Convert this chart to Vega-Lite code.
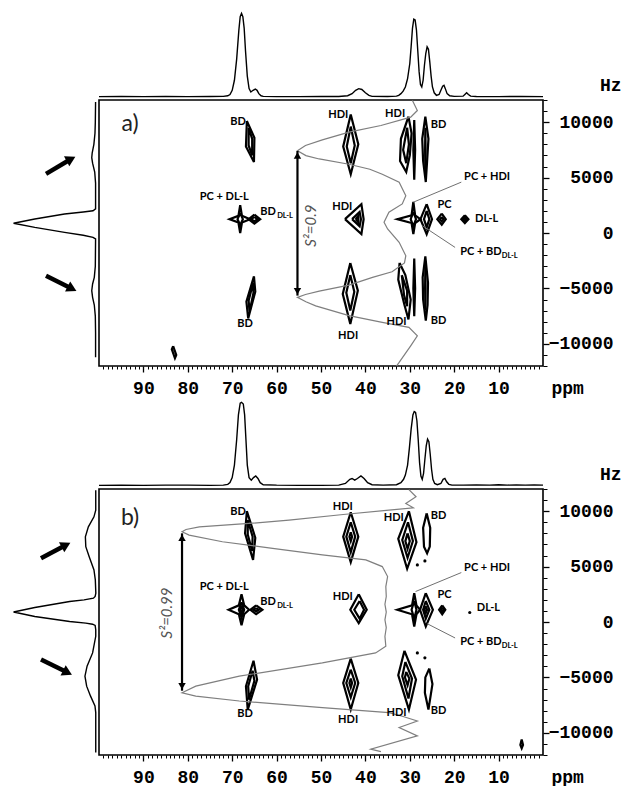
{
 "$schema": "https://vega.github.io/schema/vega-lite/v6.json",
 "padding": {"left": 10, "top": 10, "right": 0, "bottom": 0},
 "background": "white",
 "config": {"view": {"stroke": null}, "font": "Lato"},
 "datasets": {
  "topA": [{"x":100,"v":0.5},{"x":95,"v":0.6},{"x":90,"v":0.5},{"x":85,"v":0.6},{"x":80,"v":0.5},{"x":75,"v":0.6},{"x":72,"v":0.8},{"x":71,"v":1.5},{"x":70.5,"v":3},{"x":70,"v":8},{"x":69.5,"v":20},{"x":69,"v":45},{"x":68.5,"v":80},{"x":68.2,"v":96},{"x":67.9,"v":100},{"x":67.6,"v":96},{"x":67.3,"v":82},{"x":67,"v":55},{"x":66.6,"v":25},{"x":66.2,"v":10},{"x":65.8,"v":6},{"x":65.3,"v":8},{"x":64.8,"v":9.5},{"x":64.4,"v":8},{"x":64,"v":4},{"x":63.5,"v":1.5},{"x":63,"v":0.8},{"x":60,"v":0.5},{"x":55,"v":0.5},{"x":50,"v":0.6},{"x":46,"v":0.6},{"x":44,"v":1.5},{"x":43,"v":4},{"x":42.2,"v":8},{"x":41.5,"v":10},{"x":40.8,"v":9},{"x":40,"v":5},{"x":39.2,"v":2},{"x":38.5,"v":0.8},{"x":35,"v":0.6},{"x":33,"v":1},{"x":32.5,"v":2},{"x":32,"v":4},{"x":31.5,"v":7},{"x":31,"v":12},{"x":30.5,"v":22},{"x":30,"v":40},{"x":29.7,"v":60},{"x":29.4,"v":82},{"x":29.1,"v":93},{"x":28.8,"v":92},{"x":28.5,"v":80},{"x":28.2,"v":55},{"x":27.9,"v":30},{"x":27.6,"v":15},{"x":27.3,"v":12},{"x":27,"v":20},{"x":26.7,"v":38},{"x":26.4,"v":52},{"x":26.1,"v":60},{"x":25.8,"v":57},{"x":25.5,"v":42},{"x":25.2,"v":25},{"x":24.9,"v":12},{"x":24.5,"v":5},{"x":24,"v":2},{"x":23.4,"v":3},{"x":23,"v":8},{"x":22.6,"v":13},{"x":22.3,"v":14},{"x":22,"v":10},{"x":21.6,"v":4},{"x":21,"v":1.5},{"x":20,"v":0.8},{"x":18,"v":1},{"x":17.6,"v":3},{"x":17.2,"v":5},{"x":16.8,"v":3},{"x":16.3,"v":1},{"x":15,"v":0.6},{"x":10,"v":0.5},{"x":5,"v":0.6},{"x":0,"v":0.5}],
  "topB": [{"x":100,"v":0.8},{"x":95,"v":0.9},{"x":90,"v":0.8},{"x":85,"v":1},{"x":80,"v":1},{"x":75,"v":0.8},{"x":72,"v":1},{"x":71,"v":2},{"x":70.5,"v":4},{"x":70,"v":10},{"x":69.5,"v":25},{"x":69,"v":55},{"x":68.6,"v":85},{"x":68.2,"v":99},{"x":67.9,"v":100},{"x":67.5,"v":98},{"x":67.2,"v":85},{"x":66.9,"v":55},{"x":66.6,"v":25},{"x":66.2,"v":10},{"x":65.7,"v":7},{"x":65.2,"v":10},{"x":64.7,"v":12},{"x":64.2,"v":9},{"x":63.7,"v":4},{"x":63,"v":1.5},{"x":60,"v":1},{"x":55,"v":0.8},{"x":50,"v":0.8},{"x":46,"v":1},{"x":44.5,"v":3},{"x":43.5,"v":8},{"x":43,"v":9},{"x":42.4,"v":7},{"x":41.8,"v":9},{"x":41,"v":12},{"x":40.3,"v":9},{"x":39.5,"v":4},{"x":38.5,"v":1.5},{"x":36,"v":1},{"x":33,"v":1.5},{"x":32,"v":4},{"x":31.4,"v":8},{"x":31,"v":13},{"x":30.5,"v":25},{"x":30.1,"v":45},{"x":29.7,"v":68},{"x":29.3,"v":85},{"x":29,"v":89},{"x":28.7,"v":88},{"x":28.4,"v":78},{"x":28.1,"v":55},{"x":27.8,"v":28},{"x":27.5,"v":12},{"x":27.2,"v":8},{"x":26.9,"v":15},{"x":26.6,"v":32},{"x":26.3,"v":48},{"x":26,"v":56},{"x":25.7,"v":53},{"x":25.4,"v":38},{"x":25.1,"v":20},{"x":24.8,"v":8},{"x":24.4,"v":3},{"x":23.8,"v":1.5},{"x":23,"v":3},{"x":22.5,"v":8},{"x":22.1,"v":9},{"x":21.7,"v":5},{"x":21.2,"v":2},{"x":20.5,"v":1},{"x":18,"v":1},{"x":15,"v":1.2},{"x":12,"v":1},{"x":10,"v":1.5},{"x":8,"v":1},{"x":6,"v":1.4},{"x":4,"v":1},{"x":2,"v":1.2},{"x":0,"v":1}],
  "leftA": [{"y":11830,"v":0.5},{"y":10000,"v":0.8},{"y":9000,"v":1.2},{"y":8000,"v":2.5},{"y":7200,"v":4.5},{"y":6800,"v":5},{"y":6300,"v":4},{"y":5500,"v":1.5},{"y":4500,"v":0.5},{"y":2170,"v":0.5},{"y":2010,"v":3.5},{"y":1900,"v":15},{"y":1720,"v":37},{"y":1260,"v":72},{"y":876,"v":97},{"y":510,"v":72},{"y":60,"v":37},{"y":-200,"v":15},{"y":-390,"v":3.5},{"y":-540,"v":0.5},{"y":-3000,"v":0.8},{"y":-4000,"v":2},{"y":-4600,"v":4},{"y":-5200,"v":5},{"y":-5800,"v":4},{"y":-6500,"v":2},{"y":-7500,"v":0.8},{"y":-9000,"v":0.5},{"y":-11200,"v":0.5}],
  "leftB": [{"y":11890,"v":0.3},{"y":10090,"v":0.3},{"y":9490,"v":2.4},{"y":8590,"v":9},{"y":7690,"v":12.5},{"y":6790,"v":12},{"y":5890,"v":8},{"y":4700,"v":2.4},{"y":3800,"v":0.8},{"y":2600,"v":0.2},{"y":2300,"v":1},{"y":2150,"v":3},{"y":2000,"v":14},{"y":1850,"v":31},{"y":1310,"v":72},{"y":900,"v":97},{"y":500,"v":72},{"y":50,"v":31},{"y":-100,"v":12},{"y":-200,"v":4},{"y":-310,"v":1},{"y":-700,"v":0.3},{"y":-1290,"v":0.3},{"y":-2790,"v":4},{"y":-3990,"v":10.5},{"y":-4890,"v":13},{"y":-5790,"v":11},{"y":-6690,"v":6.4},{"y":-7580,"v":1.2},{"y":-8180,"v":0.3},{"y":-11770,"v":0.3}],
  "arrA": [{"x":58.8,"y":5330,"x2":29.4,"y2":6680,"d":"up"},{"x":58.8,"y":-3860,"x2":28.2,"y2":-5030,"d":"down"}],
  "arrB": [{"x":64.7,"y":5750,"x2":35.3,"y2":6950,"d":"up"},{"x":64.7,"y":-3390,"x2":33.5,"y2":-4560,"d":"down"}],
  "contA": [
   {"c":1,"x":66.7,"y":10100},{"c":1,"x":65.0,"y":8600},{"c":1,"x":65.1,"y":6400},{"c":1,"x":66.9,"y":7800},{"c":1,"x":66.7,"y":10100},
   {"c":2,"x":66.3,"y":9500},{"c":2,"x":65.5,"y":8500},{"c":2,"x":65.5,"y":7000},{"c":2,"x":66.3,"y":7900},{"c":2,"x":66.3,"y":9500},
   {"c":3,"x":65.1,"y":-3900},{"c":3,"x":64.8,"y":-5300},{"c":3,"x":66.4,"y":-7700},{"c":3,"x":66.8,"y":-6200},{"c":3,"x":65.1,"y":-3900},
   {"c":4,"x":65.3,"y":-4500},{"c":4,"x":65.2,"y":-5400},{"c":4,"x":66.1,"y":-7100},{"c":4,"x":66.3,"y":-6100},{"c":4,"x":65.3,"y":-4500},
   {"c":5,"x":68.2,"y":2500},{"c":5,"x":67.8,"y":1550},{"c":5,"x":66.0,"y":1250},{"c":5,"x":67.8,"y":950},{"c":5,"x":68.2,"y":0},{"c":5,"x":68.6,"y":950},{"c":5,"x":70.6,"y":1250},{"c":5,"x":68.6,"y":1550},{"c":5,"x":68.2,"y":2500},
   {"c":6,"x":68.2,"y":1800},{"c":6,"x":67.6,"y":1250},{"c":6,"x":68.2,"y":700},{"c":6,"x":68.8,"y":1250},{"c":6,"x":68.2,"y":1800},
   {"c":7,"x":65.0,"y":1650},{"c":7,"x":63.7,"y":1250},{"c":7,"x":65.0,"y":850},{"c":7,"x":66.3,"y":1250},{"c":7,"x":65.0,"y":1650},
   {"c":8,"x":65.0,"y":1450},{"c":8,"x":64.3,"y":1250},{"c":8,"x":65.0,"y":1050},{"c":8,"x":65.7,"y":1250},{"c":8,"x":65.0,"y":1450},
   {"c":9,"x":43.3,"y":10700},{"c":9,"x":41.6,"y":8000},{"c":9,"x":43.3,"y":5300},{"c":9,"x":45.0,"y":7800},{"c":9,"x":43.3,"y":10700},
   {"c":10,"x":43.3,"y":9600},{"c":10,"x":42.4,"y":7900},{"c":10,"x":43.3,"y":6300},{"c":10,"x":44.2,"y":7800},{"c":10,"x":43.3,"y":9600},
   {"c":11,"x":44.6,"y":1250},{"c":11,"x":40.9,"y":2600},{"c":11,"x":40.4,"y":1250},{"c":11,"x":40.9,"y":-100},{"c":11,"x":44.6,"y":1250},
   {"c":12,"x":43.0,"y":1250},{"c":12,"x":41.3,"y":1900},{"c":12,"x":41.0,"y":1250},{"c":12,"x":41.3,"y":600},{"c":12,"x":43.0,"y":1250},
   {"c":13,"x":42.2,"y":1250},{"c":13,"x":41.6,"y":1550},{"c":13,"x":41.6,"y":950},{"c":13,"x":42.2,"y":1250},
   {"c":14,"x":43.4,"y":-2700},{"c":14,"x":41.7,"y":-5200},{"c":14,"x":43.4,"y":-8200},{"c":14,"x":45.1,"y":-5500},{"c":14,"x":43.4,"y":-2700},
   {"c":15,"x":43.4,"y":-3800},{"c":15,"x":42.5,"y":-5300},{"c":15,"x":43.4,"y":-7000},{"c":15,"x":44.3,"y":-5400},{"c":15,"x":43.4,"y":-3800},
   {"c":16,"x":30.3,"y":10500},{"c":16,"x":29.6,"y":9000},{"c":16,"x":30.0,"y":7000},{"c":16,"x":30.8,"y":5500},{"c":16,"x":32.2,"y":6500},{"c":16,"x":32.0,"y":8500},{"c":16,"x":30.3,"y":10500},
   {"c":17,"x":30.6,"y":9500},{"c":17,"x":30.2,"y":8000},{"c":17,"x":30.8,"y":6300},{"c":17,"x":31.5,"y":7500},{"c":17,"x":30.6,"y":9500},
   {"c":18,"x":29.0,"y":10200},{"c":18,"x":28.8,"y":7500},{"c":18,"x":29.0,"y":4800},{"c":18,"x":29.2,"y":7500},{"c":18,"x":29.0,"y":10200},
   {"c":19,"x":26.5,"y":10500},{"c":19,"x":25.8,"y":8500},{"c":19,"x":26.1,"y":6500},{"c":19,"x":26.4,"y":4600},{"c":19,"x":27.0,"y":6500},{"c":19,"x":27.2,"y":8500},{"c":19,"x":26.5,"y":10500},
   {"c":20,"x":26.5,"y":9500},{"c":20,"x":26.45,"y":7500},{"c":20,"x":26.5,"y":5500},{"c":20,"x":26.55,"y":7500},{"c":20,"x":26.5,"y":9500},
   {"c":21,"x":29.2,"y":2800},{"c":21,"x":28.8,"y":1600},{"c":21,"x":27.6,"y":1250},{"c":21,"x":28.8,"y":900},{"c":21,"x":29.2,"y":-100},{"c":21,"x":29.6,"y":900},{"c":21,"x":32.8,"y":1250},{"c":21,"x":29.6,"y":1600},{"c":21,"x":29.2,"y":2800},
   {"c":22,"x":29.2,"y":1900},{"c":22,"x":28.6,"y":1250},{"c":22,"x":29.2,"y":600},{"c":22,"x":29.8,"y":1250},{"c":22,"x":29.2,"y":1900},
   {"c":23,"x":26.2,"y":2600},{"c":23,"x":25.0,"y":1250},{"c":23,"x":26.2,"y":-100},{"c":23,"x":27.6,"y":1250},{"c":23,"x":26.2,"y":2600},
   {"c":24,"x":26.2,"y":2000},{"c":24,"x":25.6,"y":1250},{"c":24,"x":26.2,"y":500},{"c":24,"x":26.8,"y":1250},{"c":24,"x":26.2,"y":2000},
   {"c":25,"x":22.8,"y":1750},{"c":25,"x":21.9,"y":1250},{"c":25,"x":22.8,"y":750},{"c":25,"x":23.8,"y":1250},{"c":25,"x":22.8,"y":1750},
   {"c":26,"x":22.8,"y":1450},{"c":26,"x":22.4,"y":1250},{"c":26,"x":22.8,"y":1050},{"c":26,"x":23.2,"y":1250},{"c":26,"x":22.8,"y":1450},
   {"c":27,"x":17.6,"y":1600},{"c":27,"x":16.8,"y":1250},{"c":27,"x":17.6,"y":900},{"c":27,"x":18.4,"y":1250},{"c":27,"x":17.6,"y":1600},
   {"c":28,"x":17.6,"y":1400},{"c":28,"x":17.2,"y":1250},{"c":28,"x":17.6,"y":1100},{"c":28,"x":18.0,"y":1250},{"c":28,"x":17.6,"y":1400},
   {"c":29,"x":32.3,"y":-2700},{"c":29,"x":31.0,"y":-3800},{"c":29,"x":29.8,"y":-6000},{"c":29,"x":30.3,"y":-7800},{"c":29,"x":31.2,"y":-6500},{"c":29,"x":32.6,"y":-4200},{"c":29,"x":32.3,"y":-2700},
   {"c":30,"x":31.8,"y":-3800},{"c":30,"x":30.6,"y":-5200},{"c":30,"x":30.6,"y":-6600},{"c":30,"x":31.3,"y":-5600},{"c":30,"x":31.8,"y":-3800},
   {"c":31,"x":29.0,"y":-2300},{"c":31,"x":28.8,"y":-5000},{"c":31,"x":29.0,"y":-7500},{"c":31,"x":29.2,"y":-5000},{"c":31,"x":29.0,"y":-2300},
   {"c":32,"x":26.5,"y":-2100},{"c":32,"x":25.9,"y":-4500},{"c":32,"x":26.0,"y":-6500},{"c":32,"x":26.4,"y":-7900},{"c":32,"x":27.0,"y":-6000},{"c":32,"x":27.1,"y":-4000},{"c":32,"x":26.5,"y":-2100},
   {"c":33,"x":26.5,"y":-3000},{"c":33,"x":26.45,"y":-5000},{"c":33,"x":26.5,"y":-7000},{"c":33,"x":26.55,"y":-5000},{"c":33,"x":26.5,"y":-3000},
   {"c":34,"x":83.3,"y":-10200},{"c":34,"x":82.6,"y":-11000},{"c":34,"x":82.9,"y":-11300},{"c":34,"x":83.6,"y":-10500},{"c":34,"x":83.3,"y":-10200}
  ],
  "contB": [
   {"c":1,"x":66.7,"y":10000},{"c":1,"x":64.8,"y":7600},{"c":1,"x":65.3,"y":5600},{"c":1,"x":67.1,"y":8000},{"c":1,"x":66.7,"y":10000},
   {"c":2,"x":66.5,"y":9200},{"c":2,"x":65.4,"y":7700},{"c":2,"x":65.5,"y":6400},{"c":2,"x":66.5,"y":7900},{"c":2,"x":66.5,"y":9200},
   {"c":3,"x":65.2,"y":-3500},{"c":3,"x":64.4,"y":-5200},{"c":3,"x":66.5,"y":-7900},{"c":3,"x":66.9,"y":-5800},{"c":3,"x":65.2,"y":-3500},
   {"c":4,"x":65.4,"y":-4400},{"c":4,"x":65.0,"y":-5300},{"c":4,"x":66.2,"y":-7000},{"c":4,"x":66.4,"y":-5800},{"c":4,"x":65.4,"y":-4400},
   {"c":5,"x":67.9,"y":2500},{"c":5,"x":67.3,"y":1500},{"c":5,"x":66.2,"y":1100},{"c":5,"x":67.3,"y":700},{"c":5,"x":67.9,"y":-300},{"c":5,"x":68.5,"y":700},{"c":5,"x":70.8,"y":1100},{"c":5,"x":68.5,"y":1500},{"c":5,"x":67.9,"y":2500},
   {"c":6,"x":67.9,"y":1800},{"c":6,"x":67.3,"y":1100},{"c":6,"x":67.9,"y":400},{"c":6,"x":68.5,"y":1100},{"c":6,"x":67.9,"y":1800},
   {"c":7,"x":67.9,"y":1400},{"c":7,"x":67.6,"y":1100},{"c":7,"x":67.9,"y":800},{"c":7,"x":68.2,"y":1100},{"c":7,"x":67.9,"y":1400},
   {"c":8,"x":64.6,"y":1500},{"c":8,"x":63.2,"y":1100},{"c":8,"x":64.6,"y":700},{"c":8,"x":65.9,"y":1100},{"c":8,"x":64.6,"y":1500},
   {"c":9,"x":64.6,"y":1250},{"c":9,"x":64.0,"y":1100},{"c":9,"x":64.6,"y":950},{"c":9,"x":65.2,"y":1100},{"c":9,"x":64.6,"y":1250},
   {"c":10,"x":43.3,"y":9900},{"c":10,"x":41.6,"y":7700},{"c":10,"x":43.3,"y":5400},{"c":10,"x":45.0,"y":7700},{"c":10,"x":43.3,"y":9900},
   {"c":11,"x":43.3,"y":9000},{"c":11,"x":42.3,"y":7700},{"c":11,"x":43.3,"y":6300},{"c":11,"x":44.3,"y":7700},{"c":11,"x":43.3,"y":9000},
   {"c":12,"x":43.3,"y":8100},{"c":12,"x":43.0,"y":7700},{"c":12,"x":43.3,"y":7300},{"c":12,"x":43.6,"y":7700},{"c":12,"x":43.3,"y":8100},
   {"c":13,"x":41.5,"y":2500},{"c":13,"x":39.7,"y":1100},{"c":13,"x":41.5,"y":-100},{"c":13,"x":43.4,"y":1100},{"c":13,"x":41.5,"y":2500},
   {"c":14,"x":41.3,"y":1900},{"c":14,"x":40.3,"y":1100},{"c":14,"x":41.3,"y":300},{"c":14,"x":42.5,"y":1100},{"c":14,"x":41.3,"y":1900},
   {"c":15,"x":43.3,"y":-3300},{"c":15,"x":41.6,"y":-5500},{"c":15,"x":43.3,"y":-7900},{"c":15,"x":45.0,"y":-5500},{"c":15,"x":43.3,"y":-3300},
   {"c":16,"x":43.3,"y":-4300},{"c":16,"x":42.3,"y":-5500},{"c":16,"x":43.3,"y":-6800},{"c":16,"x":44.3,"y":-5500},{"c":16,"x":43.3,"y":-4300},
   {"c":17,"x":43.3,"y":-5100},{"c":17,"x":43.0,"y":-5500},{"c":17,"x":43.3,"y":-5900},{"c":17,"x":43.6,"y":-5500},{"c":17,"x":43.3,"y":-5100},
   {"c":18,"x":30.2,"y":10000},{"c":18,"x":28.5,"y":7200},{"c":18,"x":30.6,"y":4800},{"c":18,"x":32.6,"y":7500},{"c":18,"x":30.2,"y":10000},
   {"c":19,"x":30.4,"y":9000},{"c":19,"x":29.3,"y":7300},{"c":19,"x":30.5,"y":5800},{"c":19,"x":31.7,"y":7400},{"c":19,"x":30.4,"y":9000},
   {"c":20,"x":30.5,"y":8000},{"c":20,"x":30.0,"y":7300},{"c":20,"x":30.5,"y":6600},{"c":20,"x":31.0,"y":7300},{"c":20,"x":30.5,"y":8000},
   {"c":21,"x":26.2,"y":9800},{"c":21,"x":25.4,"y":8500},{"c":21,"x":25.5,"y":6800},{"c":21,"x":26.1,"y":6200},{"c":21,"x":26.8,"y":6800},{"c":21,"x":27.0,"y":8500},{"c":21,"x":26.2,"y":9800},
   {"c":23,"x":29.0,"y":2600},{"c":23,"x":28.5,"y":1500},{"c":23,"x":27.7,"y":1100},{"c":23,"x":28.5,"y":700},{"c":23,"x":29.0,"y":-400},{"c":23,"x":29.5,"y":700},{"c":23,"x":32.8,"y":1100},{"c":23,"x":29.5,"y":1500},{"c":23,"x":29.0,"y":2600},
   {"c":24,"x":29.0,"y":1900},{"c":24,"x":28.5,"y":1100},{"c":24,"x":29.0,"y":300},{"c":24,"x":29.6,"y":1100},{"c":24,"x":29.0,"y":1900},
   {"c":25,"x":26.4,"y":2600},{"c":25,"x":24.8,"y":1100},{"c":25,"x":26.4,"y":-400},{"c":25,"x":27.7,"y":1100},{"c":25,"x":26.4,"y":2600},
   {"c":26,"x":26.4,"y":1900},{"c":26,"x":25.6,"y":1100},{"c":26,"x":26.4,"y":300},{"c":26,"x":27.0,"y":1100},{"c":26,"x":26.4,"y":1900},
   {"c":27,"x":26.4,"y":1400},{"c":27,"x":26.1,"y":1100},{"c":27,"x":26.4,"y":800},{"c":27,"x":26.7,"y":1100},{"c":27,"x":26.4,"y":1400},
   {"c":28,"x":22.7,"y":1500},{"c":28,"x":22.0,"y":1100},{"c":28,"x":22.7,"y":700},{"c":28,"x":23.4,"y":1100},{"c":28,"x":22.7,"y":1500},
   {"c":29,"x":22.7,"y":1300},{"c":29,"x":22.4,"y":1100},{"c":29,"x":22.7,"y":900},{"c":29,"x":23.0,"y":1100},{"c":29,"x":22.7,"y":1300},
   {"c":30,"x":31.2,"y":-2600},{"c":30,"x":28.6,"y":-5200},{"c":30,"x":30.2,"y":-7900},{"c":30,"x":32.6,"y":-4800},{"c":30,"x":31.2,"y":-2600},
   {"c":31,"x":31.0,"y":-3600},{"c":31,"x":29.5,"y":-5100},{"c":31,"x":30.3,"y":-6900},{"c":31,"x":31.7,"y":-4900},{"c":31,"x":31.0,"y":-3600},
   {"c":32,"x":30.8,"y":-4500},{"c":32,"x":30.1,"y":-5100},{"c":32,"x":30.5,"y":-5700},{"c":32,"x":31.1,"y":-5000},{"c":32,"x":30.8,"y":-4500},
   {"c":33,"x":25.6,"y":-4200},{"c":33,"x":24.9,"y":-5600},{"c":33,"x":25.8,"y":-7900},{"c":33,"x":26.6,"y":-6400},{"c":33,"x":26.5,"y":-5000},{"c":33,"x":25.6,"y":-4200},
   {"c":35,"x":4.8,"y":-10600},{"c":35,"x":4.5,"y":-11100},{"c":35,"x":4.8,"y":-11400},{"c":35,"x":5.1,"y":-11100},{"c":35,"x":4.8,"y":-10600}
  ],
  "curveA": [{"x":29.4,"y":11950},{"x":28.3,"y":11050},{"x":29.8,"y":10450},{"x":36.5,"y":9700},{"x":43.7,"y":9100},{"x":49.7,"y":8400},{"x":53.5,"y":7900},{"x":55.3,"y":7430},{"x":53.4,"y":6980},{"x":50.4,"y":6680},{"x":43.7,"y":6200},{"x":39.0,"y":5750},{"x":36.2,"y":5300},{"x":32.4,"y":4580},{"x":30.9,"y":3370},{"x":31.7,"y":2620},{"x":34.7,"y":1870},{"x":35.8,"y":970},{"x":35.0,"y":360},{"x":32.4,"y":-840},{"x":30.9,"y":-2050},{"x":31.2,"y":-2700},{"x":34.0,"y":-3500},{"x":38.4,"y":-4000},{"x":43.7,"y":-4700},{"x":50.4,"y":-5250},{"x":53.5,"y":-5550},{"x":55.3,"y":-5810},{"x":53.4,"y":-6200},{"x":51.2,"y":-6570},{"x":43.7,"y":-7450},{"x":36.2,"y":-8070},{"x":30.2,"y":-8520},{"x":28.3,"y":-9280},{"x":29.8,"y":-10180},{"x":32.4,"y":-11680},{"x":33.0,"y":-12000}],
  "curveB": [{"x":30.2,"y":11950},{"x":28.6,"y":11300},{"x":30.9,"y":10700},{"x":29.2,"y":10300},{"x":34.7,"y":10090},{"x":45.0,"y":9700},{"x":57.2,"y":9190},{"x":66.2,"y":8890},{"x":77.4,"y":8590},{"x":80.4,"y":8350},{"x":81.3,"y":8140},{"x":79.7,"y":7840},{"x":72.2,"y":7240},{"x":60.9,"y":6650},{"x":49.7,"y":6050},{"x":39.9,"y":5600},{"x":36.2,"y":5000},{"x":35.0,"y":4100},{"x":35.4,"y":3200},{"x":35.3,"y":2300},{"x":35.6,"y":1600},{"x":35.3,"y":900},{"x":35.6,"y":200},{"x":35.3,"y":-500},{"x":35.6,"y":-1300},{"x":35.4,"y":-2190},{"x":37.7,"y":-2790},{"x":49.7,"y":-3680},{"x":68.4,"y":-4890},{"x":78.2,"y":-5790},{"x":81.3,"y":-6380},{"x":78.2,"y":-6680},{"x":68.4,"y":-7130},{"x":49.7,"y":-7730},{"x":34.7,"y":-8180},{"x":31.7,"y":-8500},{"x":28.3,"y":-8930},{"x":32.4,"y":-9520},{"x":28.3,"y":-10280},{"x":38.8,"y":-11470},{"x":36.5,"y":-11700}],
  "labA": [{"x":68.7,"y":10020,"t":"BD"},{"x":67.1,"y":-8240,"t":"BD"},{"x":71.8,"y":3230,"t":"PC + DL-L"},{"x":61.9,"y":1870,"t":"BD"},{"x":46.1,"y":10680,"t":"HDI"},{"x":33.3,"y":10740,"t":"HDI"},{"x":23.5,"y":9710,"t":"BD"},{"x":12.6,"y":5040,"t":"PC + HDI"},{"x":45.2,"y":2320,"t":"HDI"},{"x":22.2,"y":2530,"t":"PC"},{"x":12.7,"y":1270,"t":"DL-L"},{"x":14.0,"y":-1750,"t":"PC + BD"},{"x":43.9,"y":-9290,"t":"HDI"},{"x":33.0,"y":-8030,"t":"HDI"},{"x":23.5,"y":-7960,"t":"BD"}],
  "labB": [{"x":68.7,"y":9940,"t":"BD"},{"x":67.1,"y":-8320,"t":"BD"},{"x":71.8,"y":3140,"t":"PC + DL-L"},{"x":61.9,"y":1800,"t":"BD"},{"x":45.1,"y":10390,"t":"HDI"},{"x":33.6,"y":9400,"t":"HDI"},{"x":23.5,"y":9550,"t":"BD"},{"x":12.6,"y":4910,"t":"PC + HDI"},{"x":45.1,"y":2250,"t":"HDI"},{"x":22.2,"y":2460,"t":"PC"},{"x":12.3,"y":1260,"t":"DL-L"},{"x":14.0,"y":-1830,"t":"PC + BD"},{"x":43.9,"y":-8830,"t":"HDI"},{"x":33.0,"y":-8170,"t":"HDI"},{"x":23.5,"y":-8020,"t":"BD"}],
  "subA": [{"x":58.1,"y":1570,"t":"DL-L"},{"x":7.5,"y":-2110,"t":"DL-L"}],
  "subB": [{"x":58.1,"y":1470,"t":"DL-L"},{"x":7.5,"y":-2190,"t":"DL-L"}],
  "leadA": [{"x":29.2,"y":2780,"x2":18.4,"y2":4590},{"x":27.2,"y":660,"x2":19.8,"y2":-1300}],
  "leadB": [{"x":28.7,"y":2750,"x2":18.4,"y2":4460},{"x":26.1,"y":-150,"x2":19.8,"y2":-1440}],
  "s2A": [{"x":55.3,"y":7400,"y2":-5650}],
  "s2B": [{"x":81.3,"y":8000,"y2":-6200}],
  "s2hA": [{"x":55.3,"y":7000,"e":"top"},{"x":55.3,"y":-5250,"e":"bot"}],
  "s2hB": [{"x":81.3,"y":7600,"e":"top"},{"x":81.3,"y":-5800,"e":"bot"}],
  "s2tA": [{"x":52.3,"y":660,"t":"S²=0.9"}],
  "s2tB": [{"x":84.6,"y":810,"t":"S²=0.99"}],
  "panA": [{"x":93.0,"y":9870,"t":"a)"}],
  "panB": [{"x":93.0,"y":9400,"t":"b)"}],
  "dotB": [{"x":28.3,"y":5150},{"x":26.6,"y":5510},{"x":28.3,"y":-2790},{"x":26.6,"y":-3230},{"x":16.5,"y":860}]
 },
 "spacing": 1,
 "vconcat": [
  {
   "columns": 2, "spacing": 3, "bounds": "flush",
   "concat": [
    {"width": 85, "height": 87, "data": {"values": [{}]}, "mark": {"type": "point", "opacity": 0}},
    {"width": 444, "height": 87, "data": {"name": "topA"}, "mark": {"type": "line", "color": "black", "strokeWidth": 1.4},
     "encoding": {"x": {"field": "x", "type": "quantitative", "scale": {"domain": [0, 100], "reverse": true, "nice": false}, "axis": null},
                  "y": {"field": "v", "type": "quantitative", "scale": {"domain": [0, 104], "nice": false}, "axis": null}}},
    {"width": 85, "height": 266,
     "layer": [
      {"data": {"name": "leftA"}, "mark": {"type": "line", "color": "black", "strokeWidth": 1.4},
       "encoding": {"x": {"field": "v", "type": "quantitative", "scale": {"domain": [0, 100], "reverse": true, "nice": false}, "axis": null},
                    "y": {"field": "y", "type": "quantitative", "scale": {"domain": [-12000, 12000], "nice": false}, "axis": null},
                    "order": {"value": null}}},
      {"data": {"name": "arrA"}, "mark": {"type": "rule", "color": "black", "strokeWidth": 4.5},
       "encoding": {"x": {"field": "x", "type": "quantitative", "axis": null}, "y": {"field": "y", "type": "quantitative", "axis": null}, "x2": {"field": "x2"}, "y2": {"field": "y2"}}},
      {"data": {"name": "arrA"}, "transform": [{"filter": "datum.d == 'up'"}], "mark": {"type": "point", "shape": "triangle-up", "filled": true, "color": "black", "opacity": 1, "size": 130, "angle": 62},
       "encoding": {"x": {"field": "x2", "type": "quantitative", "axis": null}, "y": {"field": "y2", "type": "quantitative", "axis": null}}},
      {"data": {"name": "arrA"}, "transform": [{"filter": "datum.d == 'down'"}], "mark": {"type": "point", "shape": "triangle-up", "filled": true, "color": "black", "opacity": 1, "size": 130, "angle": 117},
       "encoding": {"x": {"field": "x2", "type": "quantitative", "axis": null}, "y": {"field": "y2", "type": "quantitative", "axis": null}}}
     ]},
    {"width": 444, "height": 266, "view": {"stroke": "black", "strokeWidth": 1.6},
     "resolve": {"axis": {"x": "independent", "y": "independent"}},
     "layer": [
      {"data": {"name": "contA"}, "mark": {"type": "line", "color": "black", "strokeWidth": 2.2, "clip": true},
       "encoding": {
        "x": {"field": "x", "type": "quantitative", "scale": {"domain": [0, 100], "reverse": true, "nice": false},
              "axis": {"orient": "bottom", "values": [10,20,30,40,50,60,70,80,90], "tickSize": 6, "tickWidth": 1.3, "tickColor": "black", "labelFont": "Liberation Mono", "labelFontSize": 18, "labelFontWeight": "bold", "labelColor": "black", "labelPadding": 7, "domain": false, "grid": false, "labelOverlap": false, "labelFlush": false,
                       "title": "ppm", "titleFont": "Liberation Mono", "titleFontSize": 18, "titleFontWeight": "bold", "titleColor": "black", "titleX": 452, "titleY": 27, "titleAlign": "left", "titleBaseline": "alphabetic"}},
        "y": {"field": "y", "type": "quantitative", "scale": {"domain": [-12000, 12000], "nice": false},
              "axis": {"orient": "right", "values": [-10000,-5000,0,5000,10000], "format": "d", "tickSize": 6, "tickWidth": 1.3, "tickColor": "black", "labelFont": "Liberation Mono", "labelFontSize": 18, "labelFontWeight": "bold", "labelColor": "black", "labelAlign": "right", "labelBaseline": "middle", "labelPadding": 64, "domain": false, "grid": false, "labelOverlap": false, "labelFlush": false,
                       "title": "Hz", "titleFont": "Liberation Mono", "titleFontSize": 18, "titleFontWeight": "bold", "titleColor": "black", "titleAngle": 0, "titleX": 78, "titleY": -10, "titleAlign": "right", "titleBaseline": "alphabetic"}},
        "detail": {"field": "c", "type": "nominal"},
        "order": {"value": null}}},
      {"data": {"name": "curveA"}, "mark": {"type": "line", "color": "#7f7f7f", "strokeWidth": 1.2, "clip": true},
       "encoding": {
        "x": {"field": "x", "type": "quantitative", "axis": {"orient": "bottom", "values": [1,2,3,4,5,6,7,8,9,11,12,13,14,15,16,17,18,19,21,22,23,24,25,26,27,28,29,31,32,33,34,35,36,37,38,39,41,42,43,44,45,46,47,48,49,51,52,53,54,55,56,57,58,59,61,62,63,64,65,66,67,68,69,71,72,73,74,75,76,77,78,79,81,82,83,84,85,86,87,88,89,91,92,93,94,95,96,97,98,99], "tickSize": 3, "tickColor": "black", "labels": false, "domain": false, "grid": false, "title": null}},
        "y": {"field": "y", "type": "quantitative", "axis": {"orient": "right", "values": [-12000,-11000,-9000,-8000,-7000,-6000,-4000,-3000,-2000,-1000,1000,2000,3000,4000,6000,7000,8000,9000,11000,12000], "tickSize": 4, "tickColor": "black", "labels": false, "domain": false, "grid": false, "title": null}},
        "order": {"value": null}}},
      {"data": {"name": "leadA"}, "mark": {"type": "rule", "color": "#707070", "strokeWidth": 1},
       "encoding": {"x": {"field": "x", "type": "quantitative", "axis": null}, "y": {"field": "y", "type": "quantitative", "axis": null}, "x2": {"field": "x2"}, "y2": {"field": "y2"}}},
      {"data": {"name": "s2A"}, "mark": {"type": "rule", "color": "black", "strokeWidth": 2.2},
       "encoding": {"x": {"field": "x", "type": "quantitative", "axis": null}, "y": {"field": "y", "type": "quantitative", "axis": null}, "y2": {"field": "y2"}}},
      {"data": {"name": "s2hA"}, "mark": {"type": "point", "filled": true, "color": "black", "opacity": 1, "size": 55},
       "encoding": {"x": {"field": "x", "type": "quantitative", "axis": null}, "y": {"field": "y", "type": "quantitative", "axis": null},
                    "shape": {"field": "e", "type": "nominal", "scale": {"domain": ["top", "bot"], "range": ["triangle-up", "triangle-down"]}, "legend": null}}},
      {"data": {"name": "labA"}, "mark": {"type": "text", "font": "Lato", "fontWeight": "bold", "fontSize": 11, "color": "black"},
       "encoding": {"x": {"field": "x", "type": "quantitative", "axis": null}, "y": {"field": "y", "type": "quantitative", "axis": null}, "text": {"field": "t"}}},
      {"data": {"name": "subA"}, "mark": {"type": "text", "font": "Lato", "fontWeight": "bold", "fontSize": 7.5, "color": "black"},
       "encoding": {"x": {"field": "x", "type": "quantitative", "axis": null}, "y": {"field": "y", "type": "quantitative", "axis": null}, "text": {"field": "t"}}},
      {"data": {"name": "panA"}, "mark": {"type": "text", "font": "Lato", "fontSize": 23, "color": "#222"},
       "encoding": {"x": {"field": "x", "type": "quantitative", "axis": null}, "y": {"field": "y", "type": "quantitative", "axis": null}, "text": {"field": "t"}}},
      {"data": {"name": "s2tA"}, "mark": {"type": "text", "font": "Lato", "fontStyle": "italic", "fontSize": 15, "color": "#555", "angle": 270},
       "encoding": {"x": {"field": "x", "type": "quantitative", "axis": null}, "y": {"field": "y", "type": "quantitative", "axis": null}, "text": {"field": "t"}}}
     ]}
   ]
  },
  {
   "columns": 2, "spacing": 3, "bounds": "flush",
   "concat": [
    {"width": 85, "height": 87, "data": {"values": [{}]}, "mark": {"type": "point", "opacity": 0}},
    {"width": 444, "height": 87, "data": {"name": "topB"}, "mark": {"type": "line", "color": "black", "strokeWidth": 1.4},
     "encoding": {"x": {"field": "x", "type": "quantitative", "scale": {"domain": [0, 100], "reverse": true, "nice": false}, "axis": null},
                  "y": {"field": "v", "type": "quantitative", "scale": {"domain": [0, 104], "nice": false}, "axis": null}}},
    {"width": 85, "height": 266,
     "layer": [
      {"data": {"name": "leftB"}, "mark": {"type": "line", "color": "black", "strokeWidth": 1.4},
       "encoding": {"x": {"field": "v", "type": "quantitative", "scale": {"domain": [0, 100], "reverse": true, "nice": false}, "axis": null},
                    "y": {"field": "y", "type": "quantitative", "scale": {"domain": [-12000, 12000], "nice": false}, "axis": null},
                    "order": {"value": null}}},
      {"data": {"name": "arrB"}, "mark": {"type": "rule", "color": "black", "strokeWidth": 4.5},
       "encoding": {"x": {"field": "x", "type": "quantitative", "axis": null}, "y": {"field": "y", "type": "quantitative", "axis": null}, "x2": {"field": "x2"}, "y2": {"field": "y2"}}},
      {"data": {"name": "arrB"}, "transform": [{"filter": "datum.d == 'up'"}], "mark": {"type": "point", "shape": "triangle-up", "filled": true, "color": "black", "opacity": 1, "size": 130, "angle": 62},
       "encoding": {"x": {"field": "x2", "type": "quantitative", "axis": null}, "y": {"field": "y2", "type": "quantitative", "axis": null}}},
      {"data": {"name": "arrB"}, "transform": [{"filter": "datum.d == 'down'"}], "mark": {"type": "point", "shape": "triangle-up", "filled": true, "color": "black", "opacity": 1, "size": 130, "angle": 117},
       "encoding": {"x": {"field": "x2", "type": "quantitative", "axis": null}, "y": {"field": "y2", "type": "quantitative", "axis": null}}}
     ]},
    {"width": 444, "height": 266, "view": {"stroke": "black", "strokeWidth": 1.6},
     "resolve": {"axis": {"x": "independent", "y": "independent"}},
     "layer": [
      {"data": {"name": "contB"}, "mark": {"type": "line", "color": "black", "strokeWidth": 2.2, "clip": true},
       "encoding": {
        "x": {"field": "x", "type": "quantitative", "scale": {"domain": [0, 100], "reverse": true, "nice": false},
              "axis": {"orient": "bottom", "values": [10,20,30,40,50,60,70,80,90], "tickSize": 6, "tickWidth": 1.3, "tickColor": "black", "labelFont": "Liberation Mono", "labelFontSize": 18, "labelFontWeight": "bold", "labelColor": "black", "labelPadding": 7, "domain": false, "grid": false, "labelOverlap": false, "labelFlush": false,
                       "title": "ppm", "titleFont": "Liberation Mono", "titleFontSize": 18, "titleFontWeight": "bold", "titleColor": "black", "titleX": 452, "titleY": 27, "titleAlign": "left", "titleBaseline": "alphabetic"}},
        "y": {"field": "y", "type": "quantitative", "scale": {"domain": [-12000, 12000], "nice": false},
              "axis": {"orient": "right", "values": [-10000,-5000,0,5000,10000], "format": "d", "tickSize": 6, "tickWidth": 1.3, "tickColor": "black", "labelFont": "Liberation Mono", "labelFontSize": 18, "labelFontWeight": "bold", "labelColor": "black", "labelAlign": "right", "labelBaseline": "middle", "labelPadding": 64, "domain": false, "grid": false, "labelOverlap": false, "labelFlush": false,
                       "title": "Hz", "titleFont": "Liberation Mono", "titleFontSize": 18, "titleFontWeight": "bold", "titleColor": "black", "titleAngle": 0, "titleX": 78, "titleY": -10, "titleAlign": "right", "titleBaseline": "alphabetic"}},
        "detail": {"field": "c", "type": "nominal"},
        "order": {"value": null}}},
      {"data": {"name": "curveB"}, "mark": {"type": "line", "color": "#7f7f7f", "strokeWidth": 1.2, "clip": true},
       "encoding": {
        "x": {"field": "x", "type": "quantitative", "axis": {"orient": "bottom", "values": [1,2,3,4,5,6,7,8,9,11,12,13,14,15,16,17,18,19,21,22,23,24,25,26,27,28,29,31,32,33,34,35,36,37,38,39,41,42,43,44,45,46,47,48,49,51,52,53,54,55,56,57,58,59,61,62,63,64,65,66,67,68,69,71,72,73,74,75,76,77,78,79,81,82,83,84,85,86,87,88,89,91,92,93,94,95,96,97,98,99], "tickSize": 3, "tickColor": "black", "labels": false, "domain": false, "grid": false, "title": null}},
        "y": {"field": "y", "type": "quantitative", "axis": {"orient": "right", "values": [-12000,-11000,-9000,-8000,-7000,-6000,-4000,-3000,-2000,-1000,1000,2000,3000,4000,6000,7000,8000,9000,11000,12000], "tickSize": 4, "tickColor": "black", "labels": false, "domain": false, "grid": false, "title": null}},
        "order": {"value": null}}},
      {"data": {"name": "leadB"}, "mark": {"type": "rule", "color": "#707070", "strokeWidth": 1},
       "encoding": {"x": {"field": "x", "type": "quantitative", "axis": null}, "y": {"field": "y", "type": "quantitative", "axis": null}, "x2": {"field": "x2"}, "y2": {"field": "y2"}}},
      {"data": {"name": "s2B"}, "mark": {"type": "rule", "color": "black", "strokeWidth": 2.2},
       "encoding": {"x": {"field": "x", "type": "quantitative", "axis": null}, "y": {"field": "y", "type": "quantitative", "axis": null}, "y2": {"field": "y2"}}},
      {"data": {"name": "s2hB"}, "mark": {"type": "point", "filled": true, "color": "black", "opacity": 1, "size": 55},
       "encoding": {"x": {"field": "x", "type": "quantitative", "axis": null}, "y": {"field": "y", "type": "quantitative", "axis": null},
                    "shape": {"field": "e", "type": "nominal", "scale": {"domain": ["top", "bot"], "range": ["triangle-up", "triangle-down"]}, "legend": null}}},
      {"data": {"name": "dotB"}, "mark": {"type": "point", "shape": "circle", "filled": true, "color": "black", "opacity": 1, "size": 10},
       "encoding": {"x": {"field": "x", "type": "quantitative", "axis": null}, "y": {"field": "y", "type": "quantitative", "axis": null}}},
      {"data": {"name": "labB"}, "mark": {"type": "text", "font": "Lato", "fontWeight": "bold", "fontSize": 11, "color": "black"},
       "encoding": {"x": {"field": "x", "type": "quantitative", "axis": null}, "y": {"field": "y", "type": "quantitative", "axis": null}, "text": {"field": "t"}}},
      {"data": {"name": "subB"}, "mark": {"type": "text", "font": "Lato", "fontWeight": "bold", "fontSize": 7.5, "color": "black"},
       "encoding": {"x": {"field": "x", "type": "quantitative", "axis": null}, "y": {"field": "y", "type": "quantitative", "axis": null}, "text": {"field": "t"}}},
      {"data": {"name": "panB"}, "mark": {"type": "text", "font": "Lato", "fontSize": 23, "color": "#222"},
       "encoding": {"x": {"field": "x", "type": "quantitative", "axis": null}, "y": {"field": "y", "type": "quantitative", "axis": null}, "text": {"field": "t"}}},
      {"data": {"name": "s2tB"}, "mark": {"type": "text", "font": "Lato", "fontStyle": "italic", "fontSize": 15, "color": "#555", "angle": 270},
       "encoding": {"x": {"field": "x", "type": "quantitative", "axis": null}, "y": {"field": "y", "type": "quantitative", "axis": null}, "text": {"field": "t"}}}
     ]}
   ]
  }
 ]
}
